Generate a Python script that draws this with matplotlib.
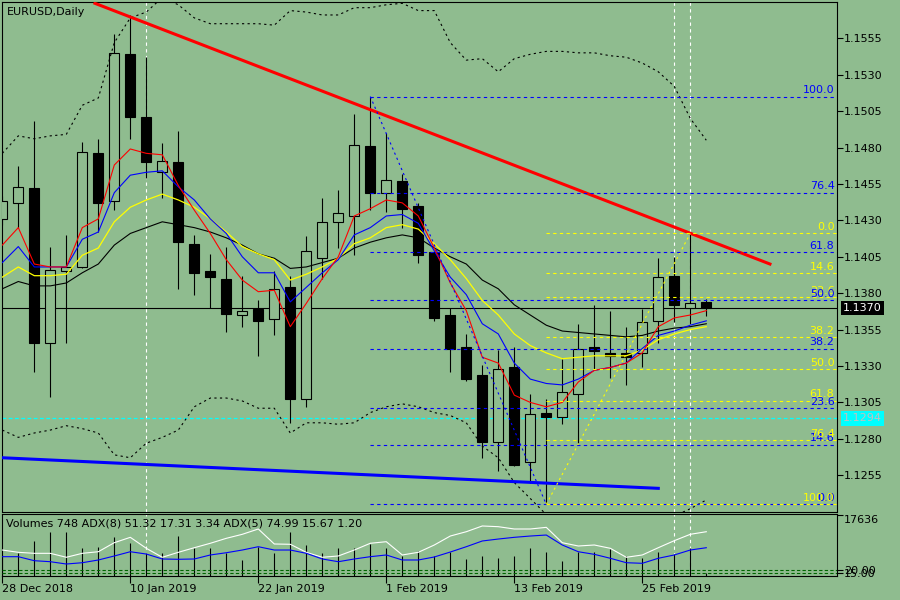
import numpy as np
import matplotlib
matplotlib.use("Agg")
import matplotlib.pyplot as plt

bg = "#8FBC8F"

# daily bars, 28 Dec 2018 .. 1 Mar 2019
date_ticks = [0, 8, 16, 24, 32, 40]
date_labels = ["28 Dec 2018", "10 Jan 2019", "22 Jan 2019", "1 Feb 2019", "13 Feb 2019", "25 Feb 2019"]

open_ = [1.1431, 1.1442, 1.1452, 1.1346, 1.1395, 1.1398, 1.1476, 1.1443, 1.1544, 1.1501,
         1.1463, 1.1470, 1.1414, 1.1395, 1.1390, 1.1365, 1.1369, 1.1362, 1.1384, 1.1307,
         1.1404, 1.1429, 1.1433, 1.1481, 1.1449, 1.1457, 1.1440, 1.1408, 1.1365, 1.1343,
         1.1324, 1.1278, 1.1329, 1.1264, 1.1298, 1.1295, 1.1311, 1.1343, 1.1339, 1.1339,
         1.1339, 1.1361, 1.1392, 1.1370, 1.1374]
high = [1.1447, 1.1467, 1.1498, 1.1412, 1.1420, 1.1484, 1.1486, 1.1558, 1.1571, 1.1542,
        1.1483, 1.1491, 1.1420, 1.1407, 1.1412, 1.1392, 1.1375, 1.1395, 1.1392, 1.1419,
        1.1445, 1.1451, 1.1503, 1.1515, 1.1490, 1.1462, 1.1442, 1.1408, 1.1370, 1.1352,
        1.1331, 1.1341, 1.1343, 1.1311, 1.1307, 1.1335, 1.1359, 1.1372, 1.1368, 1.1357,
        1.1369, 1.1404, 1.1405, 1.1421, 1.1376]
low = [1.1427, 1.1425, 1.1326, 1.1309, 1.1346, 1.1397, 1.1422, 1.1437, 1.1486, 1.1459,
       1.1445, 1.1383, 1.1379, 1.1370, 1.1353, 1.1357, 1.1337, 1.1351, 1.1291, 1.1302,
       1.1390, 1.1411, 1.1406, 1.1437, 1.1436, 1.1425, 1.1401, 1.1361, 1.1326, 1.1320,
       1.1267, 1.1258, 1.1261, 1.1250, 1.1235, 1.1290, 1.1277, 1.1328, 1.1322, 1.1317,
       1.1329, 1.1346, 1.1360, 1.1359, 1.1364]
close_ = [1.1443, 1.1453, 1.1346, 1.1396, 1.1398, 1.1477, 1.1442, 1.1545, 1.1501, 1.1470,
          1.1471, 1.1415, 1.1394, 1.1391, 1.1366, 1.1368, 1.1361, 1.1383, 1.1307, 1.1409,
          1.1429, 1.1435, 1.1482, 1.1449, 1.1458, 1.1438, 1.1406, 1.1363, 1.1342, 1.1321,
          1.1278, 1.1328, 1.1262, 1.1297, 1.1295, 1.1312, 1.1342, 1.1340, 1.1337, 1.1336,
          1.1360, 1.1391, 1.1372, 1.1373, 1.1370]

# moving averages
ma_red = [1.1413, 1.1425, 1.1400, 1.1398, 1.1398, 1.1425, 1.1431, 1.1468, 1.1479, 1.1476,
          1.1475, 1.1454, 1.1437, 1.1421, 1.1403, 1.1389, 1.1381, 1.1382, 1.1357, 1.1373,
          1.1390, 1.1405, 1.1433, 1.1438, 1.1444, 1.1442, 1.1433, 1.1411, 1.1387, 1.1368,
          1.1336, 1.1332, 1.1310, 1.1305, 1.1302, 1.1305, 1.1319, 1.1327, 1.1329, 1.1332,
          1.1339, 1.1357, 1.1363, 1.1365, 1.1368]
ma_blue = [1.1401, 1.1412, 1.1398, 1.1398, 1.1398, 1.1417, 1.1422, 1.1449, 1.1461, 1.1463,
           1.1464, 1.1453, 1.1444, 1.1431, 1.1421, 1.1405, 1.1394, 1.1394, 1.1374, 1.1384,
           1.1394, 1.1403, 1.1420, 1.1425, 1.1433, 1.1434, 1.1428, 1.1409, 1.1391, 1.1379,
           1.1359, 1.1352, 1.1332, 1.1321, 1.1318, 1.1317, 1.1321, 1.1327, 1.1329, 1.1332,
           1.1342, 1.1351, 1.1354, 1.1358, 1.1361]
ma_yellow = [1.1391, 1.1398, 1.1392, 1.1392, 1.1393, 1.1406, 1.1411, 1.1429, 1.1439, 1.1444,
             1.1448, 1.1444, 1.1439, 1.1431, 1.1422, 1.1412, 1.1407, 1.1403, 1.1389, 1.1393,
             1.1398, 1.1404, 1.1414, 1.1418, 1.1425, 1.1427, 1.1424, 1.1414, 1.1403, 1.1390,
             1.1375, 1.1365, 1.1352, 1.1344, 1.1339, 1.1335, 1.1336, 1.1337, 1.1337, 1.1337,
             1.1341, 1.1348, 1.1352, 1.1355, 1.1357]
ma_black = [1.1383, 1.1388, 1.1385, 1.1385, 1.1387, 1.1394, 1.1400, 1.1413, 1.1421, 1.1425,
            1.1429, 1.1427, 1.1425, 1.1422, 1.1418, 1.1413, 1.1407, 1.1404, 1.1397, 1.1398,
            1.1401, 1.1404, 1.1411, 1.1415, 1.1418, 1.1420, 1.1418, 1.1411, 1.1405, 1.1400,
            1.1389, 1.1383, 1.1372, 1.1365, 1.1358, 1.1354, 1.1353, 1.1352, 1.1351, 1.1350,
            1.1351, 1.1354, 1.1356, 1.1357, 1.1359]

# bollinger envelope (dotted)
band_up = [1.1476, 1.1488, 1.1486, 1.1488, 1.1489, 1.1509, 1.1514, 1.1552, 1.1569, 1.1573,
           1.1583, 1.1578, 1.1569, 1.1565, 1.1565, 1.1565, 1.1565, 1.1564, 1.1574, 1.1573,
           1.1571, 1.1571, 1.1576, 1.1576, 1.1578, 1.1579, 1.1574, 1.1574, 1.1552, 1.1540,
           1.1541, 1.1532, 1.1541, 1.1544, 1.1546, 1.1546, 1.1545, 1.1545, 1.1543, 1.1542,
           1.1538, 1.1532, 1.1522, 1.1500, 1.1485]
band_dn = [1.1286, 1.1281, 1.1284, 1.1286, 1.1289, 1.1287, 1.1284, 1.1269, 1.1267, 1.1277,
           1.1281, 1.1286, 1.1302, 1.1308, 1.1308, 1.1306, 1.1301, 1.1301, 1.1284, 1.1291,
           1.1291, 1.1290, 1.1291, 1.1298, 1.1302, 1.1304, 1.1302, 1.1298, 1.1296, 1.1291,
           1.1275, 1.1267, 1.1250, 1.1239, 1.1228, 1.1221, 1.1217, 1.1216, 1.1216, 1.1217,
           1.1219, 1.1223, 1.1227, 1.1232, 1.1238]

# lower window
volumes = [6000, 6736, 10205, 12807, 12807, 8182, 8297, 11362, 9627, 6736,
           6736, 11651, 8182, 8008, 6736, 4626, 8471, 6563, 12634, 8962,
           6563, 8182, 8008, 9165, 8182, 5869, 7228, 5782, 7025, 4915,
           5782, 5291, 5782, 8182, 7025, 4423, 7025, 6852, 7892, 5782,
           5117, 7025, 6360, 8008, 748]
adx_white = [44.0, 40.1, 38.4, 38.4, 31.7, 38.4, 41.1, 56.4, 65.5, 46.9,
             31.7, 40.1, 47.9, 55.4, 63.8, 70.6, 79.6, 54.2, 53.7, 40.1,
             31.7, 33.9, 44.0, 55.4, 58.1, 35.6, 40.1, 52.5, 67.7, 75.0,
             84.7, 83.5, 79.6, 79.6, 82.4, 56.4, 50.8, 52.5, 46.9, 31.7,
             35.6, 47.9, 59.8, 70.6, 75.0]
adx_blue = [32.7, 32.7, 25.9, 24.2, 20.3, 22.5, 27.1, 33.9, 41.1, 37.2,
            28.8, 28.3, 28.8, 35.6, 39.4, 44.0, 49.6, 44.0, 44.0, 38.4,
            28.8, 24.2, 28.8, 32.7, 35.6, 27.1, 27.1, 32.2, 40.6, 49.6,
            59.3, 62.6, 65.5, 67.7, 69.4, 52.5, 41.1, 36.7, 30.0, 22.5,
            21.5, 30.0, 35.6, 44.0, 47.9]
adx_levels = [11.0, 5.9]
adx_level_labels = ["20.00", "15.00"]

# drawn objects
red_trend_x = [5.79, 47.98]
red_trend_y = [1.1579, 1.1400]
blue_trend_x = [0.0, 41.0]
blue_trend_y = [1.1267, 1.1246]
fib_levels = [0.0, 14.6, 23.6, 38.2, 50.0, 61.8, 76.4, 100.0]
blue_fib_from, blue_fib_to = 23, 34   # high bar -> low bar
yellow_fib_from, yellow_fib_to = 34, 43   # low bar -> high bar
marker_bars = [9, 42, 43]
bid_price = 1.1370
cyan_price = 1.1294

price_ticks = [1.1255, 1.1280, 1.1305, 1.1330, 1.1355, 1.1380, 1.1405,
               1.1430, 1.1455, 1.1480, 1.1505, 1.1530, 1.1555]

x = np.arange(len(close_))
o = np.array(open_)
c = np.array(close_)
bull = c >= o
body_lo = np.minimum(o, c)
body_h = np.maximum(np.abs(c - o), 0.00008)
x_right = 52.17

fig = plt.figure(figsize=(9, 6), dpi=100, facecolor=bg)
ax = fig.add_axes([0.00256, 0.1475, 0.92744, 0.84867], facecolor=bg)
ax2 = fig.add_axes([0.00256, 0.04, 0.92744, 0.10383], facecolor=bg, sharex=ax)
ax3 = ax2.twinx()

for v in marker_bars:
    ax.axvline(v, color="white", lw=0.8, ls=(0, (3, 3)), zorder=1)
    ax2.axvline(v, color="white", lw=0.8, ls=(0, (3, 3)), zorder=1)

ax.axhline(bid_price, color="black", lw=0.8, zorder=2)
ax.axhline(cyan_price, color="#00FFFF", lw=0.9, ls=(0, (3, 2)), zorder=2)

# candles
ax.vlines(x, low, high, color="black", lw=0.8, zorder=3)
ax.bar(x[bull], body_h[bull], bottom=body_lo[bull], width=0.62,
       facecolor=bg, edgecolor="black", lw=0.8, zorder=4)
ax.bar(x[~bull], body_h[~bull], bottom=body_lo[~bull], width=0.62,
       facecolor="black", edgecolor="black", lw=0.8, zorder=4)

# indicators
ax.plot(x, band_up, color="black", lw=0.8, ls=(0, (2, 3)), zorder=5)
ax.plot(x, band_dn, color="black", lw=0.8, ls=(0, (2, 3)), zorder=5)
ax.plot(x, ma_black, color="black", lw=0.8, zorder=5)
ax.plot(x, ma_yellow, color="#FFFF00", lw=0.9, zorder=5)
ax.plot(x, ma_blue, color="#0000FF", lw=0.8, zorder=5)
ax.plot(x, ma_red, color="#FF0000", lw=0.8, zorder=5)

# trend lines
ax.plot(red_trend_x, red_trend_y, color="#FF0000", lw=2.2, zorder=6)
ax.plot(blue_trend_x, blue_trend_y, color="#0000FF", lw=2.2, zorder=6)

# fibonacci retracements
fib_hi = high[blue_fib_from]
fib_lo = low[blue_fib_to]
yfib_lo = low[yellow_fib_from]
yfib_hi = high[yellow_fib_to]
ax.plot([blue_fib_from, blue_fib_to], [fib_hi, fib_lo], color="#0000FF", lw=0.8,
        ls=(0, (2, 3)), zorder=6)
ax.plot([yellow_fib_from, yellow_fib_to], [yfib_lo, yfib_hi], color="#FFFF00", lw=0.8,
        ls=(0, (2, 3)), zorder=6)
for lv in fib_levels:
    pb = fib_lo + lv / 100.0 * (fib_hi - fib_lo)
    ax.hlines(pb, blue_fib_from, x_right, colors="#0000FF", lw=0.8, linestyles=(0, (3, 3)), zorder=6)
    ax.annotate("%.1f" % lv, (0.997, pb), xycoords=ax.get_yaxis_transform(), xytext=(0, 1),
                textcoords="offset points", ha="right", va="bottom", color="#0000FF", fontsize=8, zorder=7)
    py = yfib_hi - lv / 100.0 * (yfib_hi - yfib_lo)
    ax.hlines(py, yellow_fib_from, x_right, colors="#FFFF00", lw=0.8, linestyles=(0, (3, 3)), zorder=6)
    ax.annotate("%.1f" % lv, (0.997, py), xycoords=ax.get_yaxis_transform(), xytext=(0, 1),
                textcoords="offset points", ha="right", va="bottom", color="#FFFF00", fontsize=8, zorder=7)

ax.set_xlim(0, x_right)
ax.set_ylim(1.12301, 1.15797)
ax.yaxis.tick_right()
ax.set_yticks(price_ticks)
ax.set_yticklabels(["%.4f" % t for t in price_ticks])
ax.tick_params(axis="y", length=4, width=0.8, pad=1, labelsize=8, direction="out")
ax.tick_params(axis="x", bottom=False, labelbottom=False)
for s in ax.spines.values():
    s.set_linewidth(0.8)

ax.text(0.006, 0.981, "EURUSD,Daily", transform=ax.transAxes, va="center", ha="left", fontsize=8)
ax.text(1.0072, bid_price, "%.4f" % bid_price, transform=ax.get_yaxis_transform(), color="white",
        fontsize=8, va="center", ha="left", clip_on=False, zorder=10,
        bbox=dict(boxstyle="square,pad=0.2", fc="black", ec="none"))
ax.text(1.0072, cyan_price, "%.4f" % cyan_price, transform=ax.get_yaxis_transform(), color="#C0C0C0",
        fontsize=8, va="center", ha="left", clip_on=False, zorder=10,
        bbox=dict(boxstyle="square,pad=0.2", fc="#00FFFF", ec="none"))

# volumes + ADX window
vol_top = 17636 * 1.021
ax2.vlines(x, 0, volumes, color="black", lw=0.8, zorder=3)
ax2.set_ylim(0, vol_top)
ax2.yaxis.tick_right()
ax2.set_yticks([17636])
ax2.set_yticklabels(["17636"])
ax2.tick_params(axis="y", left=False, labelleft=False, right=True, labelright=True,
                length=4, width=0.8, pad=1, labelsize=8)
for t in ax2.get_yticklabels():
    t.set_va("top")
ax2.set_xticks(date_ticks)
ax2.set_xticklabels(date_labels)
ax2.tick_params(axis="x", length=5, width=0.8, pad=1, labelsize=8)
for t in ax2.get_xticklabels():
    t.set_ha("left")
for s in ax2.spines.values():
    s.set_linewidth(0.8)

ax3.set_ylim(0, 105.5)
for s in ax3.spines.values():
    s.set_visible(False)
ax3.plot(x, adx_white, color="white", lw=0.8, zorder=4)
ax3.plot(x, adx_blue, color="#0000FF", lw=0.8, zorder=4)
for lv in adx_levels:
    ax3.axhline(lv, color="#006400", lw=0.8, ls=(0, (3, 2)))
ax3.set_yticks(adx_levels)
ax3.set_yticklabels(adx_level_labels)
ax3.tick_params(axis="y", length=4, width=0.8, pad=1, labelsize=8)

ax2.text(0.004, 0.835, "Volumes 748 ADX(8) 51.32 17.31 3.34 ADX(5) 74.99 15.67 1.20",
         transform=ax2.transAxes, va="center", ha="left", fontsize=8)

fig.savefig("out.png", dpi=100, facecolor=bg)
